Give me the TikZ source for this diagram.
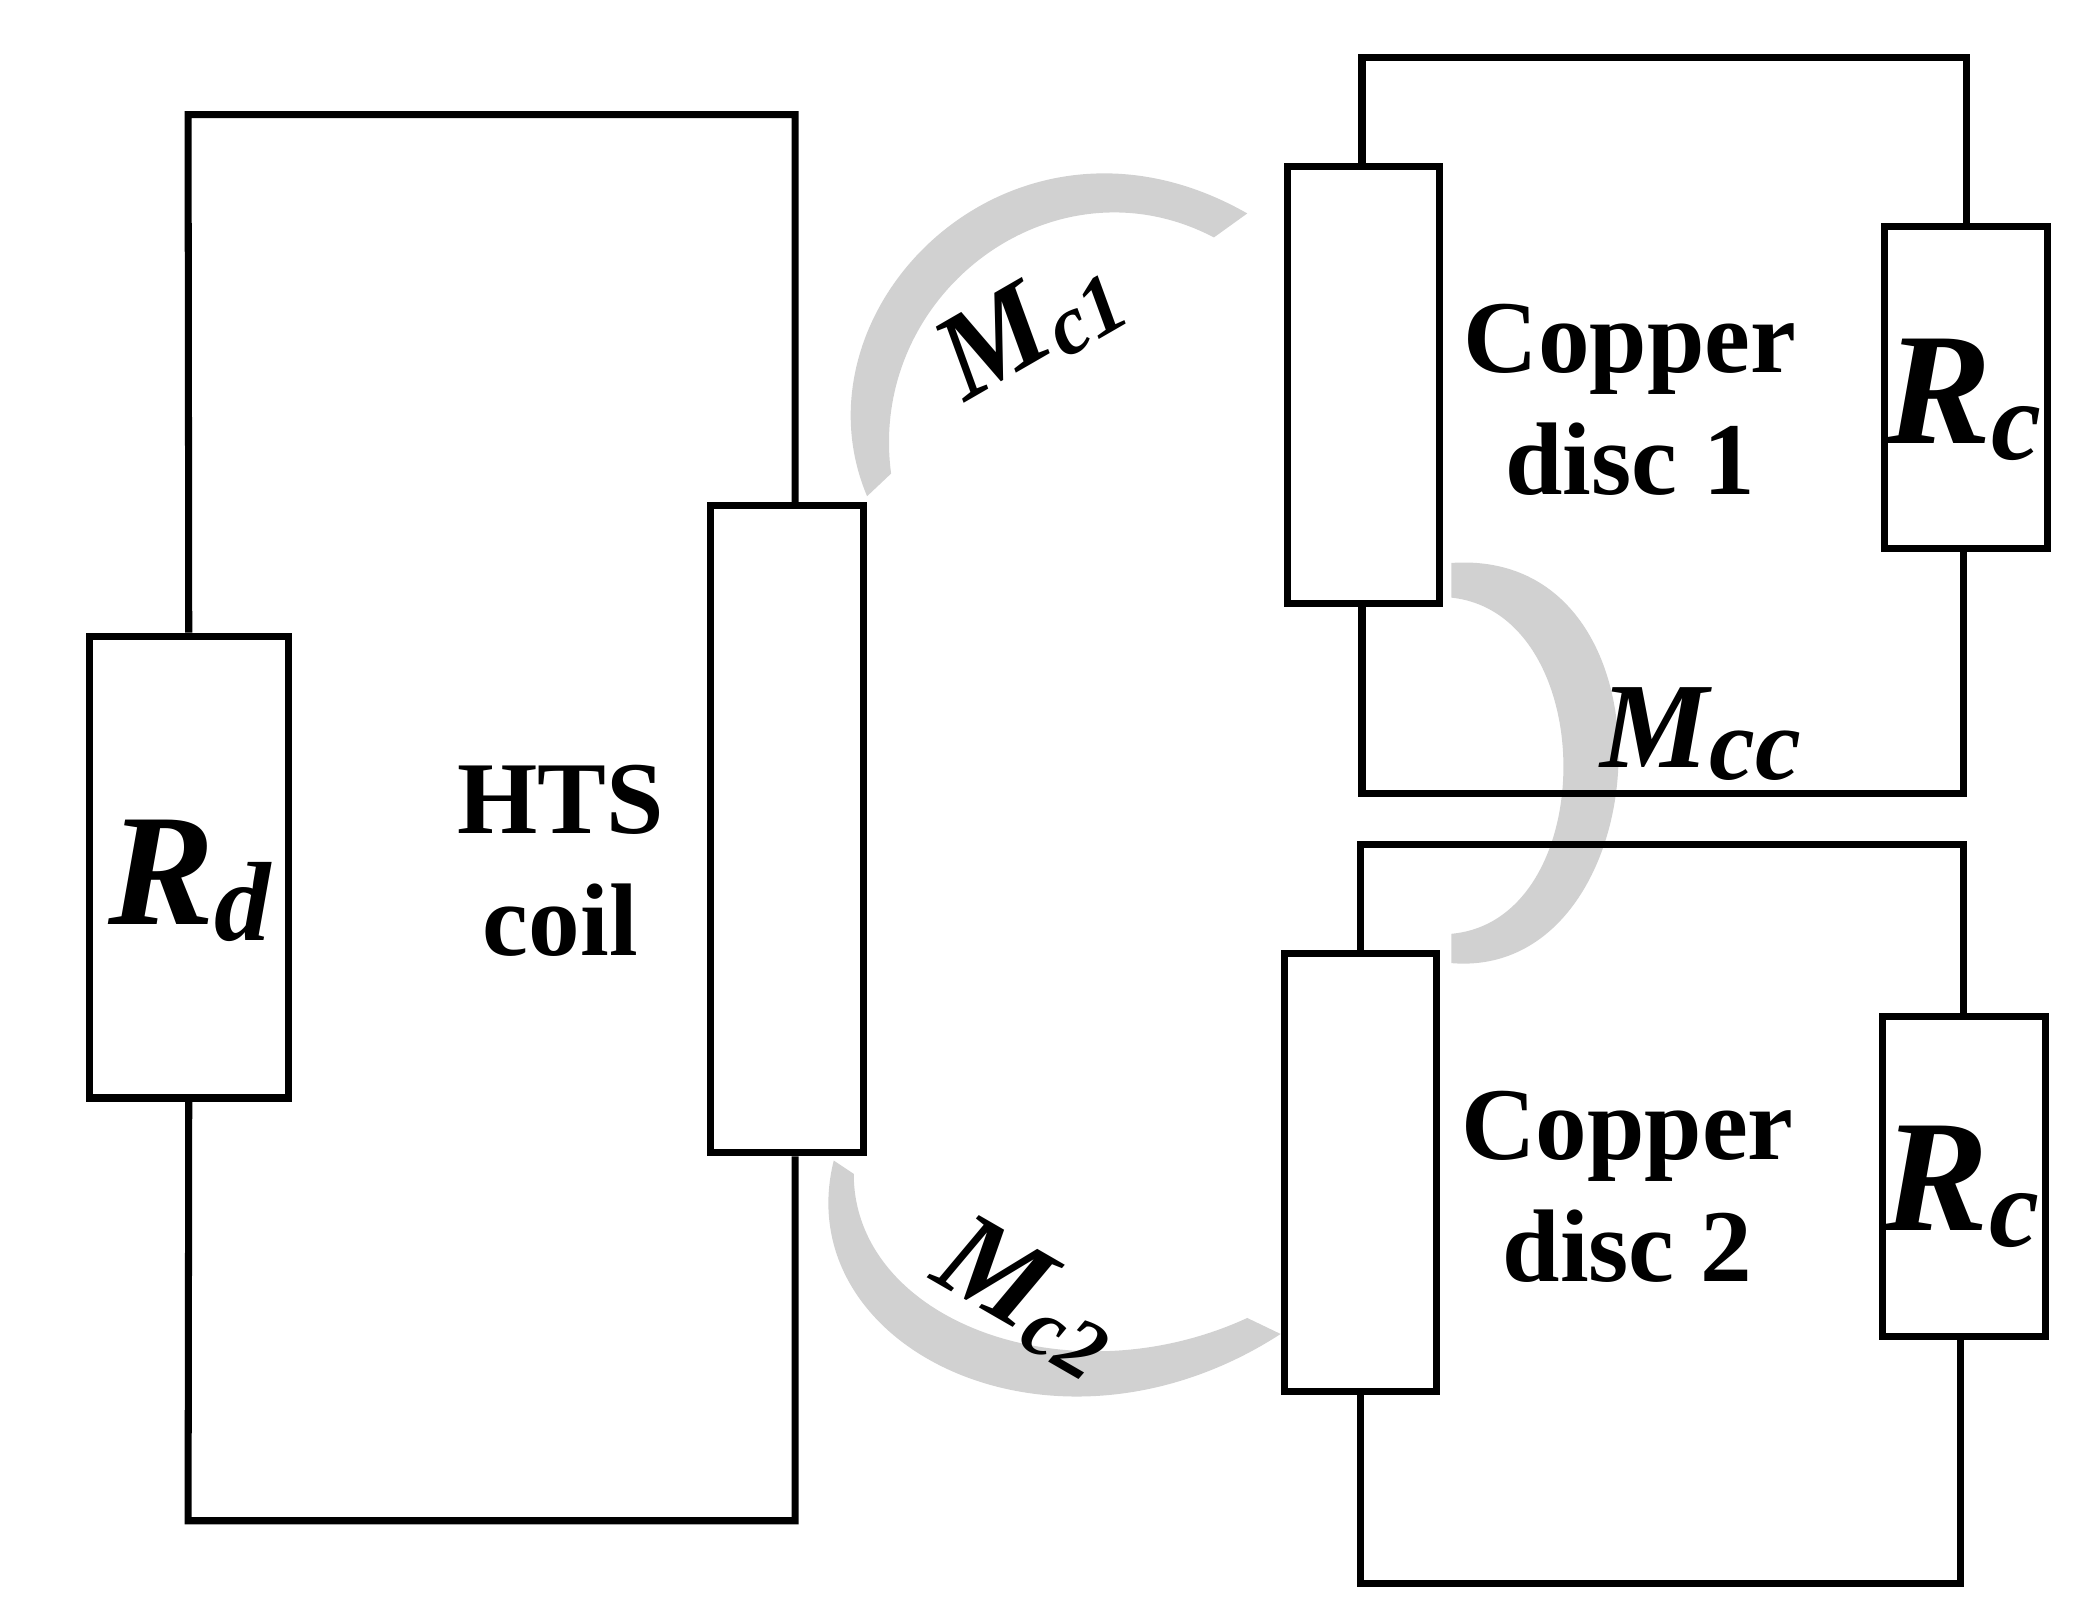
\documentclass[tikz,border=0pt]{standalone}
\usepackage{fontspec}
\setmainfont{Liberation Serif}
\begin{document}
\begin{tikzpicture}[x=0.01cm,y=-0.01cm,
  w/.style={line width=1.5pt},
  box/.style={draw,line width=1.5pt,inner sep=0pt},
  cres/.style={fill=black!18,draw=none},
  lab/.style={font=\fontsize{22}{26}\selectfont\bfseries,align=center},
  big/.style={font=\fontsize{34}{38}\selectfont\bfseries\itshape},
  mm/.style={font=\fontsize{26}{30}\selectfont\bfseries\itshape}]
\useasboundingbox (0,0) rectangle (1560,1212);
% crescents
\path[cres] (650,372) .. controls (590,230) and (760,60) .. (935,160)
  -- (910,178) .. controls (790,115) and (650,220) .. (668,355) -- cycle;
\path[cres] (625,870) .. controls (590,1010) and (790,1110) .. (960,1000)
  -- (935,988) .. controls (800,1050) and (640,990) .. (640,880) -- cycle;
\path[cres] (1088,422) .. controls (1265,410) and (1245,735) .. (1088,722)
  -- (1088,700) .. controls (1200,690) and (1200,460) .. (1088,448) -- cycle;
% left loop
\path (141.5,650) node[box,minimum width=1.49cm,minimum height=3.46cm] (rd) {};
\path (590,621.5) node[box,minimum width=1.14cm,minimum height=4.85cm] (hts) {};
\coordinate (lt) at (141,86); \coordinate (rt) at (596,86);
\coordinate (lb) at (141,1140); \coordinate (rb) at (596,1140);
\draw[w] (rd.north) -- (lt) -- (rt) -- (hts.north -| rt);
\draw[w] (rd.south) -- (lb) -- (rb) -- (hts.south -| rb);
\node[big] at (142,660) {R\raisebox{-0.1em}{\fontsize{24}{26}\selectfont d}};
\node[lab] at (420,645) {HTS\\coil};
% disc 1
\path (1022,288.5) node[box,minimum width=1.14cm,minimum height=3.27cm] (d1) {};
\path (1474,290.5) node[box,minimum width=1.22cm,minimum height=2.41cm] (r1) {};
\coordinate (a1) at (1021,43); \coordinate (b1) at (1474,43);
\coordinate (c1) at (1021,595); \coordinate (e1) at (1472,595);
\draw[w] (d1.north -| a1) -- (a1) -- (b1) -- (r1.north);
\draw[w] (d1.south -| c1) -- (c1) -- (e1) -- (r1.south -| e1);
\node[lab] at (1222,300) {Copper\\disc 1};
\node[big] at (1472,300) {R\raisebox{-0.1em}{\fontsize{24}{26}\selectfont c}};
% disc 2
\path (1020,879) node[box,minimum width=1.14cm,minimum height=3.28cm] (d2) {};
\path (1472,882) node[box,minimum width=1.22cm,minimum height=2.40cm] (r2) {};
\coordinate (a2) at (1020,633); \coordinate (b2) at (1472,633);
\coordinate (c2) at (1020,1187); \coordinate (e2) at (1470,1187);
\draw[w] (d2.north -| a2) -- (a2) -- (b2) -- (r2.north);
\draw[w] (d2.south -| c2) -- (c2) -- (e2) -- (r2.south -| e2);
\node[lab] at (1220,890) {Copper\\disc 2};
\node[big] at (1470,890) {R\raisebox{-0.1em}{\fontsize{24}{26}\selectfont c}};
% labels
\node[mm,rotate=30,inner sep=0pt] (m1) at (772,245) {M\raisebox{-0.1em}{\fontsize{18}{20}\selectfont c1}};
\node[mm,rotate=-30,inner sep=0pt] (m2) at (770,972) {M\raisebox{-0.1em}{\fontsize{18}{20}\selectfont c2}};
\node[mm] (mc) at (1275,550) {M\raisebox{-0.1em}{\fontsize{22}{24}\selectfont cc}};
\end{tikzpicture}
\end{document}
